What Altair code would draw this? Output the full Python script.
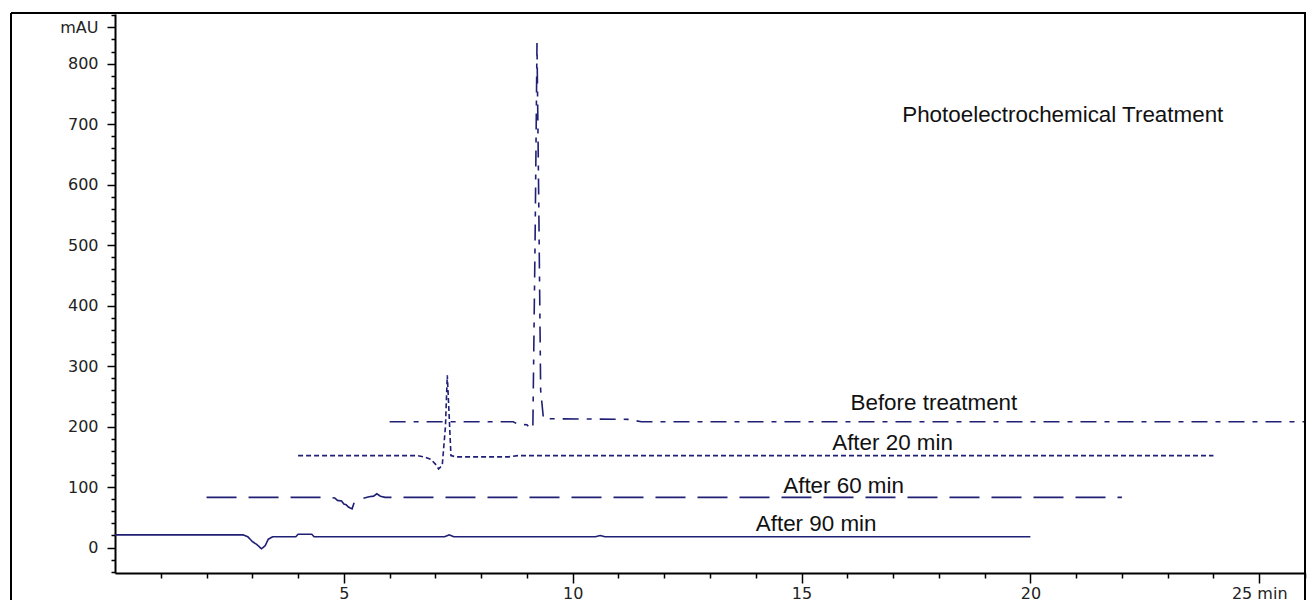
import altair as alt
import pandas as pd

COLOR = "#1f1f75"

series_names = ["Before treatment", "After 20 min", "After 60 min", "After 90 min"]

before_t = [6.0, 8.7, 8.8, 9.0, 9.08, 9.13, 9.18, 9.22, 9.26, 9.3, 9.36, 9.5, 11.2, 11.35, 11.5, 26.0]
before_mau = [208, 208, 204, 203, 196, 200, 520, 834, 560, 260, 214, 213, 212, 210, 208, 208]

after20_t = [4.0, 6.6, 6.75, 6.9, 7.0, 7.07, 7.15, 7.22, 7.26, 7.3, 7.34, 7.45, 8.6, 8.8, 9.5, 24.0]
after20_mau = [152, 152, 150, 146, 138, 130, 136, 200, 285, 220, 152, 150, 150, 152, 152, 152]

after60_t = [2.0, 4.7, 4.8, 4.86, 4.95, 5.0, 5.05, 5.1, 5.18, 5.25, 5.4, 5.55, 5.65, 5.72, 5.8, 5.9, 22.0]
after60_mau = [83, 83, 82, 78, 77, 72, 71, 67, 64, 80, 81, 84, 85, 89, 85, 83, 83]

after90_t = [0.0, 2.8, 2.9, 3.0, 3.1, 3.2, 3.28, 3.35, 3.45, 3.95, 4.0, 4.3, 4.35, 7.2, 7.3, 7.4, 10.5, 10.6, 10.7, 20.0]
after90_mau = [21, 21, 18, 10, 5, -2, 3, 14, 18, 18, 22, 22, 18, 18, 21, 18, 18, 20, 18, 18]

label_text = ["Photoelectrochemical Treatment", "Before treatment", "After 20 min", "After 60 min", "After 90 min"]
label_t = [17.2, 16.07, 15.67, 14.6, 14.0]
label_mau = [715, 239, 173, 102, 39]

x_major = [5, 10, 15, 20, 25]
x_minor = [v for v in range(1, 27) if v % 5 != 0]
y_major = [0, 100, 200, 300, 400, 500, 600, 700, 800, 860]
y_minor = [v for v in range(-40, 881, 20) if v % 100 != 0 and v != 860]

rows = []
for name, ts, ys in zip(series_names,
                        [before_t, after20_t, after60_t, after90_t],
                        [before_mau, after20_mau, after60_mau, after90_mau]):
    for i, (t, y) in enumerate(zip(ts, ys)):
        rows.append({"series": name, "t": t, "mau": y, "order": i})
df = pd.DataFrame(rows)

labels_df = pd.DataFrame({"text": label_text, "t": label_t, "mau": label_mau})

xscale = alt.Scale(domain=[0, 26], nice=False, zero=False)
yscale = alt.Scale(domain=[-42, 882], nice=False, zero=False)

x_major_axis = alt.Axis(orient="bottom", values=x_major, tickSize=10, labelPadding=2,
                        labelExpr="datum.value == 25 ? '25 min' : datum.label",
                        title=None, grid=False)
y_major_axis = alt.Axis(orient="left", values=y_major, tickSize=8, labelPadding=9,
                        labelExpr="datum.value == 860 ? 'mAU' : datum.label",
                        title=None, grid=False)
x_minor_axis = alt.Axis(orient="bottom", values=x_minor, tickSize=5, labels=False,
                        domain=False, title=None, grid=False)
y_minor_axis = alt.Axis(orient="left", values=y_minor, tickSize=4, labels=False,
                        domain=False, title=None, grid=False)

lines = alt.Chart(df).mark_line(strokeWidth=1.6, color=COLOR, clip=True).encode(
    x=alt.X("t:Q", scale=xscale, axis=x_major_axis),
    y=alt.Y("mau:Q", scale=yscale, axis=y_major_axis),
    detail="series:N",
    order="order:Q",
    strokeDash=alt.StrokeDash(
        "series:N",
        scale=alt.Scale(domain=series_names,
                        range=[[16, 8, 5, 8], [5, 3], [30, 12], [1, 0]]),
        legend=None,
    ),
)

texts = alt.Chart(labels_df).mark_text(
    align="left", baseline="middle", font="Liberation Sans", fontSize=22.4, color="#111111"
).encode(
    x=alt.X("t:Q", scale=xscale, axis=x_minor_axis),
    y=alt.Y("mau:Q", scale=yscale, axis=y_minor_axis),
    text="text:N",
)

one = pd.DataFrame({"k": [0]})
frame_left = alt.Chart(one).mark_rule(color="black", strokeWidth=2).encode(
    x=alt.value(-104), y=alt.value(-1), y2=alt.value(600))
frame_top = alt.Chart(one).mark_rule(color="black", strokeWidth=2).encode(
    y=alt.value(-1), x=alt.value(-104), x2=alt.value(1191))
frame_right = alt.Chart(one).mark_rule(color="black", strokeWidth=2).encode(
    x=alt.value(1190), y=alt.value(-1), y2=alt.value(600))

chart = alt.layer(lines, texts, frame_left, frame_top, frame_right).resolve_axis(
    x="independent", y="independent"
).properties(
    width=1190, height=559,
    padding={"left": 115, "top": 14, "right": 2, "bottom": 27},
    autosize=alt.AutoSizeParams(type="none"),
    background="white",
).configure_view(stroke=None).configure_axis(
    domainColor="black", domainWidth=2, tickColor="black", tickWidth=1.5,
    labelFont="DejaVu Sans", labelFontSize=16, labelColor="#222222",
)

chart.save("out.html", embed_options={"renderer": "svg", "actions": False})
